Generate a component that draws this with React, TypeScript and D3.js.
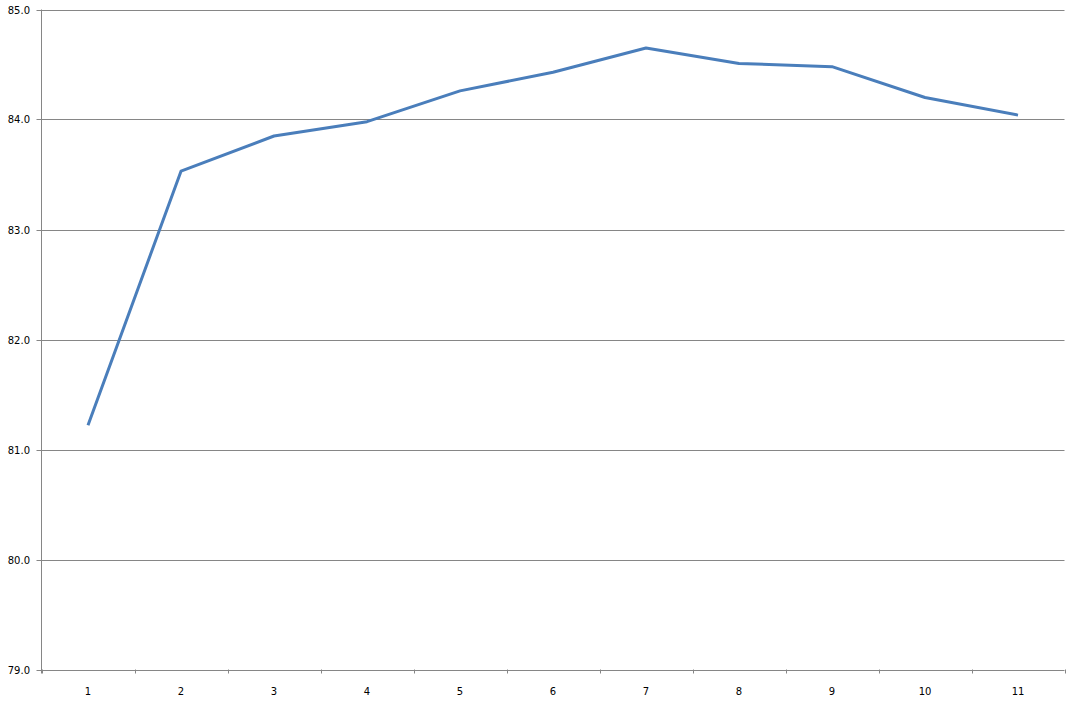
import React from "react";
import * as d3 from "d3";

const categories = ["1", "2", "3", "4", "5", "6", "7", "8", "9", "10", "11"];
const values = [81.22, 83.53, 83.85, 83.98, 84.26, 84.43, 84.65, 84.51, 84.48, 84.2, 84.04];
const yTicks = [79, 80, 81, 82, 83, 84, 85];

const W = 1080;
const H = 703;
const left = 41.5;
const right = 1064.5;
const top = 9.5;
const bottom = 669.5;

export default function App() {
  const x = d3.scaleBand<string>().domain(categories).range([left, right]).padding(0);
  const y = d3.scaleLinear().domain([79, 85]).range([bottom, top]);
  const line = d3
    .line<number>()
    .x((_, i) => (x(categories[i]) as number) + x.bandwidth() / 2)
    .y((d) => y(d));
  const font = "'DejaVu Sans', Verdana, sans-serif";
  const grid = "#868686";
  const boundaries = categories.map((c) => x(c) as number).concat([right]);

  return (
    <svg
      width={W}
      height={H}
      style={{ position: "absolute", left: 0, top: 0, background: "#fff" }}
    >
      {yTicks.map((t) => (
        <g key={t}>
          <line x1={left - 5} x2={right} y1={Math.round(y(t)) + 0.5} y2={Math.round(y(t)) + 0.5} stroke={grid} strokeWidth={1} />
          <text
            x={30}
            y={Math.round(y(t)) + 4}
            textAnchor="end"
            fontFamily={font}
            fontSize={10}
            fill="#000"
          >
            {t.toFixed(1)}
          </text>
        </g>
      ))}
      <line x1={left} x2={left} y1={top} y2={bottom + 4} stroke={grid} strokeWidth={1} />
      {boundaries.map((b, i) => (
        <line
          key={i}
          x1={Math.round(b) + 0.5}
          x2={Math.round(b) + 0.5}
          y1={bottom}
          y2={bottom + 4}
          stroke={grid}
          strokeWidth={1}
        />
      ))}
      {categories.map((c) => (
        <text
          key={c}
          x={(x(c) as number) + x.bandwidth() / 2}
          y={695}
          textAnchor="middle"
          fontFamily={font}
          fontSize={10}
          fill="#000"
        >
          {c}
        </text>
      ))}
      <path
        d={line(values) || ""}
        fill="none"
        stroke="#4a7ebb"
        strokeWidth={3}
        strokeLinejoin="round"
      />
    </svg>
  );
}
